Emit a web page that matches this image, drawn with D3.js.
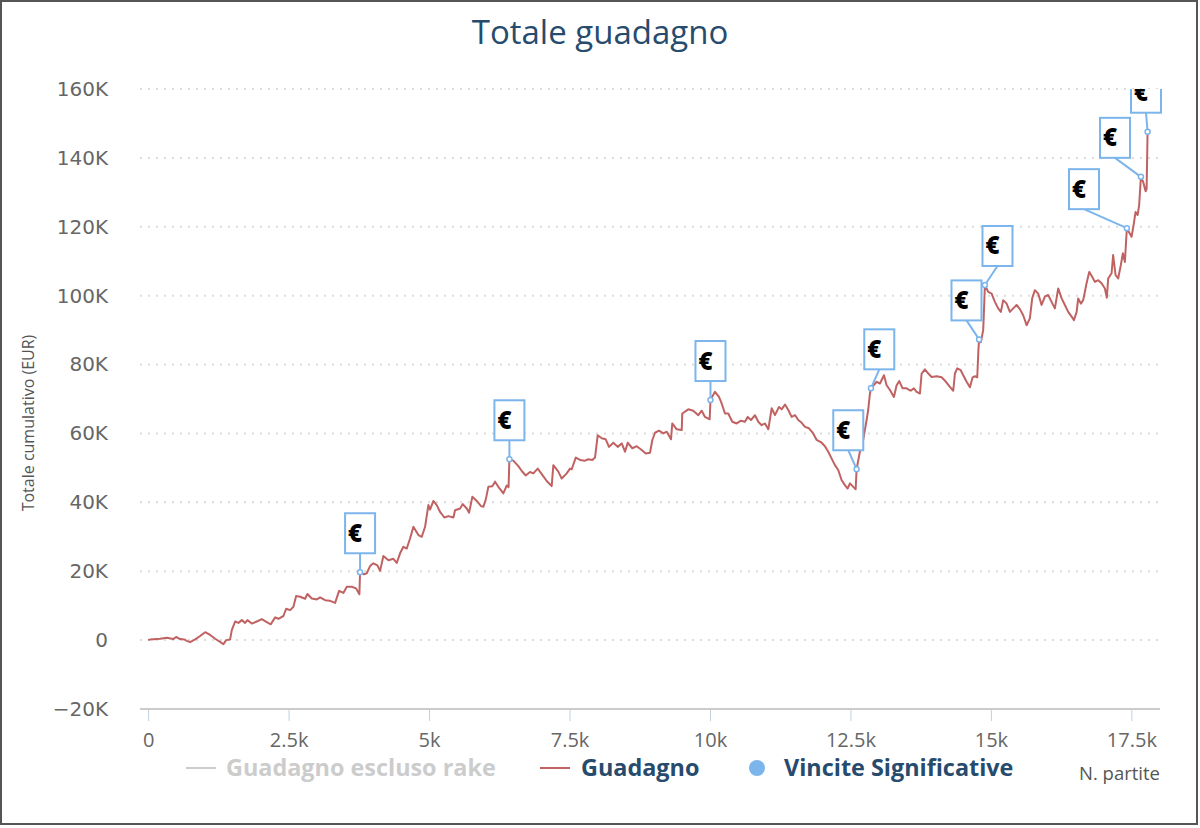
<!DOCTYPE html>
<html>
<head>
<meta charset="utf-8">
<script src="https://cdn.jsdelivr.net/npm/d3@7"></script>
<style>
  html, body { margin: 0; padding: 0; background: #fff; }
  svg { display: block; }
</style>
</head>
<body>
<svg id="chart" width="1200" height="828"></svg>
<script>
// ---------------- DATA ----------------
const chartTitle = "Totale guadagno";
const yAxisTitle = "Totale cumulativo (EUR)";
const xAxisTitle = "N. partite";
const seriesNames = ["Guadagno escluso rake", "Guadagno", "Vincite Significative"];

// number of games played (x) for the "Guadagno" series
const gamesX = [
  0,36,214,333,445,498,569,641,689,747,
  836,925,1014,1103,1192,1281,1340,1388,1459,1489,
  1548,1607,1667,1726,1767,1845,1934,2023,2112,2183,
  2260,2319,2408,2456,2527,2586,2634,2705,2794,2835,
  2913,3002,3061,3150,3239,3328,3399,3475,3536,3625,
  3701,3760,3772,3843,3891,3950,4009,4080,4128,4187,
  4276,4365,4425,4484,4543,4603,4662,4721,4810,4870,
  4929,4988,5018,5077,5137,5196,5272,5344,5433,5463,
  5552,5600,5671,5712,5771,5849,5925,5966,6009,6055,
  6127,6175,6233,6322,6383,6415,6430,6500,6589,6650,
  6721,6797,6856,6934,7006,7094,7183,7212,7301,7361,
  7450,7509,7539,7611,7687,7776,7835,7906,7954,8002,
  8073,8144,8203,8280,8358,8429,8488,8536,8618,8696,
  8785,8856,8933,8974,9022,9093,9170,9230,9306,9329,
  9408,9497,9507,9614,9703,9792,9853,9911,9995,10009,
  10089,10160,10208,10267,10326,10397,10475,10552,10623,10671,
  10730,10801,10860,10920,10979,11038,11098,11157,11228,11276,
  11335,11394,11454,11513,11572,11632,11691,11762,11838,11899,
  11988,12046,12105,12166,12224,12283,12344,12402,12450,12491,
  12550,12593,12610,12668,12727,12788,12816,12847,12865,12967,
  13025,13097,13144,13203,13274,13322,13369,13429,13500,13571,
  13630,13678,13737,13767,13826,13885,13945,14034,14123,14200,
  14271,14330,14360,14401,14461,14508,14568,14627,14675,14716,
  14757,14778,14790,14822,14863,14884,14893,14952,15013,15071,
  15130,15178,15219,15280,15338,15397,15458,15516,15575,15636,
  15694,15735,15783,15842,15902,15961,16020,16080,16139,16198,
  16259,16317,16376,16437,16478,16526,16554,16602,16643,16703,
  16750,16803,16851,16910,16970,17029,17064,17088,17148,17176,
  17219,17265,17313,17349,17385,17420,17456,17504,17540,17575,
  17611,17639,17670,17711,17754,17772,17789,17830
];

// cumulative profit in EUR for the "Guadagno" series
const profitY = [
  0,200,400,700,300,900,300,200,-200,-600,
  200,1200,2300,1500,400,-500,-1200,0,200,2900,
  5400,5000,5800,5000,5800,4800,5400,6100,5200,4600,
  6600,6200,7000,9100,8700,9700,12800,12600,12000,13400,
  12100,11800,12400,11600,11400,10800,14300,13700,15500,15500,
  15000,13300,19700,19100,19400,21500,22300,21700,20100,24400,
  23200,23600,22400,25200,27100,26600,29500,32900,30500,30000,
  32900,39200,37900,40400,39200,37200,35600,36000,35600,37700,
  38200,39500,38200,37000,41600,40400,38900,38700,40800,44500,
  44700,46000,44500,42600,44900,44400,52500,52100,50500,49100,
  47800,48800,48400,49800,48200,46200,44700,50800,48900,46900,
  48400,49800,49600,53000,52300,52100,52500,52300,53000,59500,
  58600,58300,56100,57300,56100,57100,54700,57300,55700,56300,
  55200,54200,54400,58100,60200,60800,60000,60500,58300,62900,
  61200,61000,65800,67000,66600,65300,66600,64800,64100,69700,
  72100,70600,68700,65800,65800,63400,62900,63700,63400,64800,
  63900,65300,63400,62400,62900,61200,67300,65300,67700,67000,
  68400,66800,64800,65300,63900,63100,61900,61500,60000,58100,
  57300,56300,54700,52700,50800,49400,46400,45000,44000,45500,
  44500,43800,49600,54700,58100,63900,66800,71600,73100,75000,
  74500,76900,74000,72600,70600,74000,75200,73100,73100,72400,
  73100,72100,71600,77400,78600,77400,76400,76600,76300,75000,
  73500,72400,77400,78900,78400,76900,75000,73400,76300,76600,
  76300,84200,87300,86500,90000,98700,103100,101100,100600,98200,
  96300,95300,98700,97700,95300,96300,97300,96100,94300,91400,
  93400,99200,101600,100600,97300,99700,100200,98200,96300,102100,
  99200,97300,95300,93900,92900,95300,99200,97700,98700,103600,
  106900,105500,104000,104500,103600,102100,99400,105000,106500,111800,
  106000,105000,108900,112300,109800,119600,118500,117100,120500,124300,
  123400,126300,134500,133000,130300,131100,147600,148100
];

// "Vincite Significative" flags
const flagGamesX  = [3772, 6430, 10009, 12610, 12865, 14790, 14893, 17420, 17670, 17789];
const flagProfitY = [19700, 52500, 69700, 49600, 73100, 87300, 103100, 119600, 134500, 147600];
const flagText = "€";

const yTicks = [-20000, 0, 20000, 40000, 60000, 80000, 100000, 120000, 140000, 160000];
const yTickLabels = ["−20K", "0", "20K", "40K", "60K", "80K", "100K", "120K", "140K", "160K"];
const xTicks = [0, 2500, 5000, 7500, 10000, 12500, 15000, 17500];
const xTickLabels = ["0", "2.5k", "5k", "7.5k", "10k", "12.5k", "15k", "17.5k"];

// ---------------- LAYOUT ----------------
const W = 1200, H = 828;
const plot = { left: 140, right: 1160, top: 89, bottom: 709 };
const COLORS = {
  title: "#274b6d", label: "#666", axisTitle: "#555", grid: "#dcdcdc",
  axisLine: "#cccccc", tick: "#c0d0e0", line: "#c06262", flag: "#7cb5ec",
  legendOn: "#274b6d", legendOff: "#cccccc", hiddenLine: "#cccccc"
};
const SANS = "'Open Sans', 'Noto Sans', sans-serif";

const svg = d3.select("#chart");

svg.append("rect")
  .attr("x", 1).attr("y", 1).attr("width", W - 4).attr("height", H - 5)
  .attr("fill", "#fff").attr("stroke", "#555").attr("stroke-width", 2);

const x = d3.scaleLinear().domain([-145, 18010]).range([plot.left, plot.right]);
const y = d3.scaleLinear().domain([-20000, 160000]).range([plot.bottom, plot.top]);

// Title
svg.append("text")
  .attr("x", 600).attr("y", 44)
  .attr("text-anchor", "middle")
  .attr("font-family", SANS).attr("font-size", 33)
  .attr("fill", COLORS.title)
  .text(chartTitle);

// Grid lines
svg.append("g").selectAll("line")
  .data(yTicks.filter(v => v > -20000))
  .join("line")
  .attr("x1", plot.left).attr("x2", plot.right)
  .attr("y1", d => y(d)).attr("y2", d => y(d))
  .attr("stroke", COLORS.grid).attr("stroke-width", 2)
  .attr("stroke-dasharray", "2,6");

// Y axis labels
const yAxis = svg.append("g")
  .attr("transform", "translate(108,0)")
  .call(d3.axisLeft(y).tickValues(yTicks).tickSize(0).tickPadding(0)
    .tickFormat((d, i) => yTickLabels[i]));
yAxis.select(".domain").remove();
yAxis.selectAll("text")
  .attr("font-family", "'DejaVu Sans', sans-serif").attr("font-size", 20)
  .attr("fill", COLORS.label);

// Y axis title
svg.append("text")
  .attr("transform", "translate(34,423) rotate(-90)")
  .attr("text-anchor", "middle")
  .attr("font-family", SANS).attr("font-size", 16)
  .attr("fill", COLORS.axisTitle)
  .text(yAxisTitle);

// X axis
const xAxis = svg.append("g")
  .attr("transform", `translate(0,${plot.bottom})`)
  .call(d3.axisBottom(x).tickValues(xTicks).tickSize(12).tickSizeOuter(0).tickPadding(12)
    .tickFormat((d, i) => xTickLabels[i]));
xAxis.select(".domain").attr("stroke", COLORS.axisLine).attr("stroke-width", 2)
  .attr("d", `M${plot.left},0H${plot.right}`);
xAxis.selectAll(".tick line").attr("stroke", COLORS.tick).attr("stroke-width", 1).attr("y1", 1);
xAxis.selectAll("text")
  .attr("font-family", SANS).attr("font-size", 20)
  .attr("fill", COLORS.label);

// X axis title
svg.append("text")
  .attr("x", plot.right).attr("y", 780)
  .attr("text-anchor", "end")
  .attr("font-family", SANS).attr("font-size", 18.5)
  .attr("fill", COLORS.axisTitle)
  .text(xAxisTitle);

// Clip
svg.append("defs").append("clipPath").attr("id", "plotclip")
  .append("rect")
  .attr("x", plot.left - 2).attr("y", plot.top)
  .attr("width", plot.right - plot.left + 6).attr("height", plot.bottom - plot.top);

const gPlot = svg.append("g").attr("clip-path", "url(#plotclip)");

// Line series
const pts = gamesX.map((g, i) => [g, profitY[i]]);
gPlot.append("path")
  .datum(pts)
  .attr("fill", "none")
  .attr("stroke", COLORS.line)
  .attr("stroke-width", 2)
  .attr("stroke-linejoin", "round")
  .attr("d", d3.line().x(d => x(d[0])).y(d => y(d[1])));

// Flags — horizontal distribution to avoid overlap
const boxW = 30, boxH = 40, gap = 19, slot = 31;
const anchors = flagGamesX.map((g, i) => ({ px: x(g), py: y(flagProfitY[i]) }));
let groups = anchors.map((a, i) => ({ idx: [i], targets: [a.px] }));
function groupPos(gr) {
  const size = gr.idx.length * slot;
  const mean = d3.mean(gr.targets);
  let pos = mean - size / 2;
  pos = Math.max(plot.left, Math.min(plot.right + 1.5 - size, pos));
  return { pos, size };
}
let changed = true;
while (changed) {
  changed = false;
  for (let i = 0; i < groups.length - 1; i++) {
    const a = groupPos(groups[i]), b = groupPos(groups[i + 1]);
    if (a.pos + a.size > b.pos + 0.01) {
      groups[i] = { idx: groups[i].idx.concat(groups[i + 1].idx),
                    targets: groups[i].targets.concat(groups[i + 1].targets) };
      groups.splice(i + 1, 1);
      changed = true;
      break;
    }
  }
}
groups.forEach(gr => {
  const { pos } = groupPos(gr);
  gr.idx.forEach((fi, k) => { anchors[fi].cx = pos + slot * k + slot / 2; });
});

const gFlags = gPlot.append("g");
const fl = gFlags.selectAll("g.flag").data(anchors).join("g").attr("class", "flag");
fl.append("line")
  .attr("x1", d => d.cx).attr("y1", d => d.py - gap)
  .attr("x2", d => d.px).attr("y2", d => d.py)
  .attr("stroke", COLORS.flag).attr("stroke-width", 2);
fl.append("rect")
  .attr("x", d => d.cx - boxW / 2).attr("y", d => d.py - gap - boxH)
  .attr("width", boxW).attr("height", boxH)
  .attr("fill", "#fff").attr("stroke", COLORS.flag).attr("stroke-width", 2);
fl.append("text")
  .attr("x", d => d.cx - boxW / 2 + 3).attr("y", d => d.py - gap - boxH + 28.5)
  .attr("font-family", SANS).attr("font-weight", 800).attr("font-size", 24)
  .attr("fill", "#000")
  .text(flagText);
fl.append("circle")
  .attr("cx", d => d.px).attr("cy", d => d.py).attr("r", 2.5)
  .attr("fill", "#fff").attr("stroke", COLORS.flag).attr("stroke-width", 1.5);

// Legend
const lg = svg.append("g").attr("font-family", SANS).attr("font-weight", 700).attr("font-size", 23.4);
lg.append("line").attr("x1", 186).attr("x2", 216).attr("y1", 768).attr("y2", 768)
  .attr("stroke", COLORS.hiddenLine).attr("stroke-width", 2);
lg.append("text").attr("x", 226).attr("y", 776).attr("fill", COLORS.legendOff).text(seriesNames[0]);
lg.append("line").attr("x1", 540).attr("x2", 570).attr("y1", 768).attr("y2", 768)
  .attr("stroke", COLORS.line).attr("stroke-width", 2);
lg.append("text").attr("x", 581).attr("y", 776).attr("fill", COLORS.legendOn).text(seriesNames[1]);
lg.append("circle").attr("cx", 757).attr("cy", 768).attr("r", 8).attr("fill", COLORS.flag);
lg.append("text").attr("x", 784).attr("y", 776).attr("fill", COLORS.legendOn).text(seriesNames[2]);
</script>
</body>
</html>
